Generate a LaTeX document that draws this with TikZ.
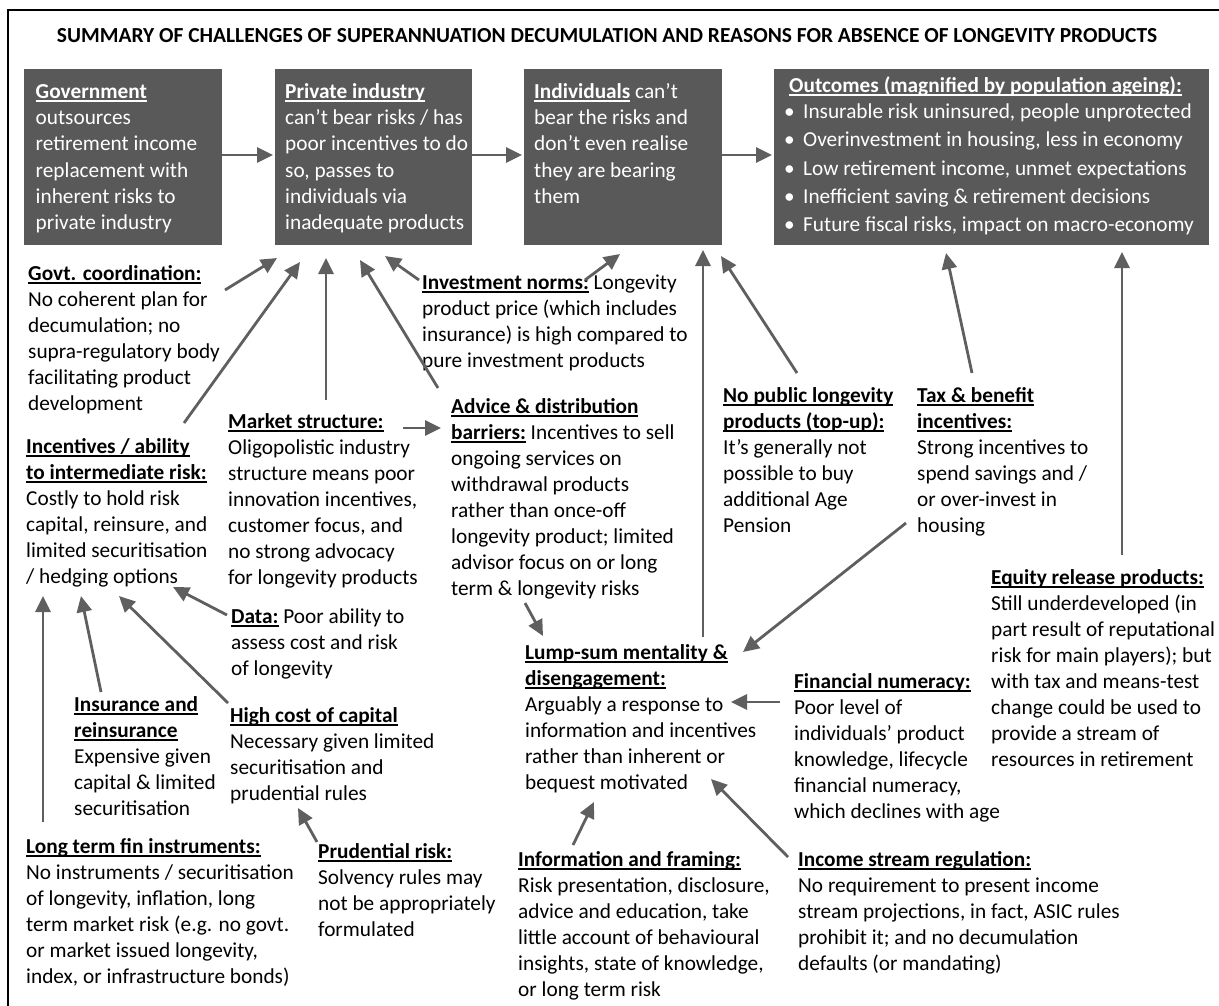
\documentclass[tikz,border=0pt]{standalone}
\usepackage{fontspec}
\setmainfont{Carlito}
\usetikzlibrary{arrows.meta}
\definecolor{boxgray}{HTML}{595959}
\definecolor{arrgray}{HTML}{5F5F5F}
\newcommand\hd[1]{\setbox0\hbox{\bfseries #1}\rlap{\rule[-3.6pt]{\wd0}{1.6pt}}\box0\relax}
\newcommand\sst{\rule{0pt}{18pt}}
\newcommand\bodyfont{\fontsize{21.3}{26}\selectfont}
\newcommand\boxfont{\fontsize{21.3}{26.3}\selectfont}
\newcommand\outfont{\fontsize{21.3}{28.3}\selectfont}
\newcommand\bl{\makebox[19pt][l]{•}}
\tikzset{
  txt/.style={anchor=north west, inner sep=0pt, align=left, font=\bodyfont, text=black},
  wtxt/.style={txt, font=\boxfont, text=white},
  dbox/.style={fill=boxgray, draw=none, inner sep=0pt, anchor=north west},
  arr/.style={draw=arrgray, line width=2.8pt, -{Triangle[length=16pt,width=15pt]}},
}
\begin{document}
\begin{tikzpicture}[x=1pt,y=-1pt]
\useasboundingbox (0,0) rectangle (1219,1005);
\draw[line width=1.8pt] (1225,10) -- (8,10) -- (8,1012);
\node[anchor=center, inner sep=0pt] (title) at (607,35.5)
  {\resizebox{1100pt}{!}{\bfseries SUMMARY OF CHALLENGES OF SUPERANNUATION DECUMULATION AND REASONS FOR ABSENCE OF LONGEVITY PRODUCTS}};
% dark boxes
\node[dbox, minimum width=198pt, minimum height=176pt] (gov) at (24,69) {};
\node[dbox, minimum width=197pt, minimum height=176pt] (priv) at (275,69) {};
\node[dbox, minimum width=198pt, minimum height=176pt] (ind) at (524,69) {};
\node[dbox, minimum width=435pt, minimum height=176pt] (out) at (774,69) {};
\node[wtxt] (govt) at (35.5,80) {\sst\hd{Government}\\outsources\\retirement income\\replacement with\\inherent risks to\\private industry};
\node[wtxt] (privt) at (285,80) {\sst\hd{Private industry}\\can’t bear risks / has\\poor incentives to do\\so, passes to\\individuals via\\inadequate products};
\node[wtxt] (indt) at (534,80) {\sst\hd{Individuals} can’t\\bear the risks and\\don’t even realise\\they are bearing\\them};
\node[wtxt, font=\outfont] (outt) at (784,74) {\sst\hspace*{5pt}\hd{Outcomes (magnified by population ageing):}\\[-2pt]
\bl Insurable risk uninsured, people unprotected\\
\bl Overinvestment in housing, less in economy\\
\bl Low retirement income, unmet expectations\\
\bl Inefficient saving \& retirement decisions\\
\bl Future fiscal risks, impact on macro-economy};
% text blocks
\node[txt] (gc) at (28,262) {\sst\hd{Govt. coordination:}\\No coherent plan for\\decumulation; no\\supra-regulatory body\\facilitating product\\development};
\node[txt] (inc) at (26,435) {\sst\hd{Incentives / ability}\\\hd{to intermediate risk:}\\Costly to hold risk\\capital, reinsure, and\\limited securitisation\\/ hedging options};
\node[txt] (mkt) at (228,410) {\sst\hd{Market structure:}\\Oligopolistic industry\\structure means poor\\innovation incentives,\\customer focus, and\\no strong advocacy\\for longevity products};
\node[txt] (inv) at (422,271) {\sst\hd{Investment norms:} Longevity\\product price (which includes\\insurance) is high compared to\\pure investment products};
\node[txt] (adv) at (451,395) {\sst\hd{Advice \& distribution}\\\hd{barriers:} Incentives to sell\\ongoing services on\\withdrawal products\\rather than once-off\\longevity product; limited\\advisor focus on or long\\term \& longevity risks};
\node[txt] (data) at (231,605) {\sst\hd{Data:} Poor ability to\\assess cost and risk\\of longevity};
\node[txt] (ins) at (74,693) {\sst\hd{Insurance and}\\\hd{reinsurance}\\Expensive given\\capital \& limited\\securitisation};
\node[txt] (hcc) at (230,704) {\sst\hd{High cost of capital}\\Necessary given limited\\securitisation and\\prudential rules};
\node[txt] (lt) at (26,835) {\sst\hd{Long term fin instruments:}\\No instruments / securitisation\\of longevity, inflation, long\\term market risk (e.g. no govt.\\or market issued longevity,\\index, or infrastructure bonds)};
\node[txt] (prud) at (318,840) {\sst\hd{Prudential risk:}\\Solvency rules may\\not be appropriately\\formulated};
\node[txt] (nopub) at (723,384) {\sst\hd{No public longevity}\\\hd{products (top-up):}\\It’s generally not\\possible to buy\\additional Age\\Pension};
\node[txt] (tax) at (917,384) {\sst\hd{Tax \& benefit}\\\hd{incentives:}\\Strong incentives to\\spend savings and /\\or over-invest in\\housing};
\node[txt] (eq) at (991,566) {\sst\hd{Equity release products:}\\Still underdeveloped (in\\part result of reputational\\risk for main players); but\\with tax and means-test\\change could be used to\\provide a stream of\\resources in retirement};
\node[txt] (lump) at (525,641) {\sst\hd{Lump-sum mentality \&}\\\hd{disengagement:}\\Arguably a response to\\information and incentives\\rather than inherent or\\bequest motivated};
\node[txt] (fin) at (794,670) {\sst\hd{Financial numeracy:}\\Poor level of\\individuals’ product\\knowledge, lifecycle\\financial numeracy,\\which declines with age};
\node[txt] (info) at (518,848) {\sst\hd{Information and framing:}\\Risk presentation, disclosure,\\advice and education, take\\little account of behavioural\\insights, state of knowledge,\\or long term risk};
\node[txt] (isr) at (798,848) {\sst\hd{Income stream regulation:}\\No requirement to present income\\stream projections, in fact, ASIC rules\\prohibit it; and no decumulation\\defaults (or mandating)};
% connector end points
\coordinate (gcA) at (225,290);  \coordinate (gcB) at (277,258);
\coordinate (incA) at (184,423); \coordinate (incB) at (300,262);
\coordinate (mktA) at (326,400); \coordinate (mktB) at (326,258);
\coordinate (advA) at (438,388); \coordinate (advB) at (360,260);
\coordinate (invA) at (419,280); \coordinate (invB) at (385,256);
\coordinate (invC) at (585,280); \coordinate (invD) at (620,254);
\coordinate (mktC) at (403,428); \coordinate (advC) at (441,428);
\coordinate (lumpA) at (703,637); \coordinate (lumpB) at (703,250);
\coordinate (npA) at (797,373); \coordinate (npB) at (721,256);
\coordinate (taxA) at (972,373); \coordinate (taxB) at (946,253);
\coordinate (eqA) at (1122,555); \coordinate (eqB) at (1122,252);
\coordinate (advD) at (525,603); \coordinate (lumpC) at (543,636);
\coordinate (taxC) at (906,523); \coordinate (lumpD) at (743,652);
\coordinate (finA) at (780,702); \coordinate (lumpE) at (731,702);
\coordinate (infoA) at (573,845); \coordinate (lumpF) at (594,802);
\coordinate (isrA) at (788,857); \coordinate (lumpG) at (711,779);
\coordinate (dataA) at (227,615); \coordinate (incC) at (173,587);
\coordinate (ltA) at (43,822); \coordinate (incD) at (43,596);
\coordinate (insA) at (101,692); \coordinate (incE) at (81,596);
\coordinate (hccA) at (228,703); \coordinate (incF) at (119,596);
\coordinate (prudA) at (317,842); \coordinate (hccB) at (298,808);
% connectors
\draw[arr, shorten >=2pt] (gov.east |- 0,155) -- (priv.west |- 0,155);
\draw[arr, shorten >=2pt] (priv.east |- 0,155) -- (ind.west |- 0,155);
\draw[arr, shorten >=2pt] (ind.east |- 0,155) -- (out.west |- 0,155);
\draw[arr] (gcA) -- (gcB);
\draw[arr] (incA) -- (incB);
\draw[arr] (mktA) -- (mktB);
\draw[arr] (advA) -- (advB);
\draw[arr] (invA) -- (invB);
\draw[arr] (invC) -- (invD);
\draw[arr] (mktC) -- (advC);
\draw[arr] (lumpA) -- (lumpB);
\draw[arr] (npA) -- (npB);
\draw[arr] (taxA) -- (taxB);
\draw[arr] (eqA) -- (eqB);
\draw[arr] (advD) -- (lumpC);
\draw[arr] (taxC) -- (lumpD);
\draw[arr] (finA) -- (lumpE);
\draw[arr] (infoA) -- (lumpF);
\draw[arr] (isrA) -- (lumpG);
\draw[arr] (dataA) -- (incC);
\draw[arr] (ltA) -- (incD);
\draw[arr] (insA) -- (incE);
\draw[arr] (hccA) -- (incF);
\draw[arr] (prudA) -- (hccB);
\end{tikzpicture}
\end{document}
